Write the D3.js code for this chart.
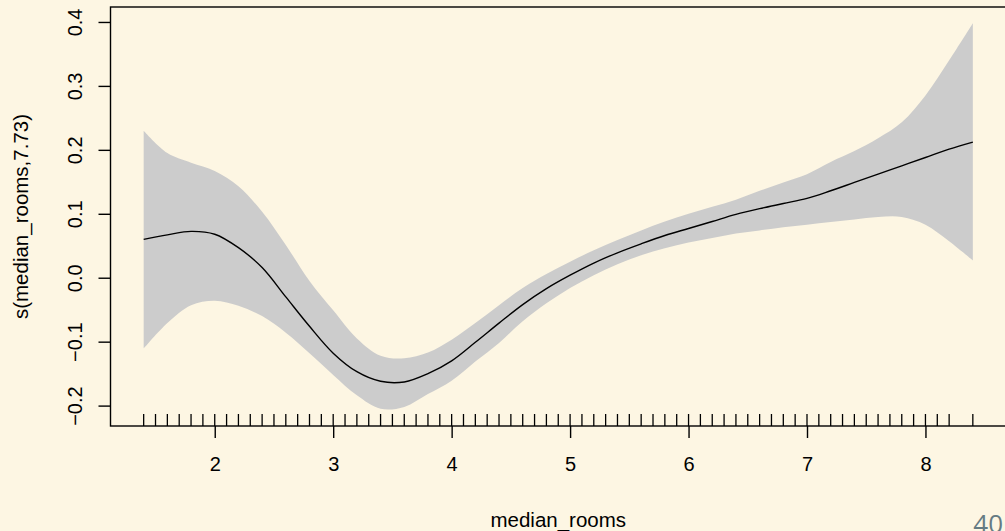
<!DOCTYPE html>
<meta charset="utf-8">
<style>
body { margin: 0; background: #fdf6e3; }
svg { display: block; }
text { font-family: "Liberation Sans", Arial, sans-serif; fill: #000; }
.slide-num { font-family: "Open Sans", sans-serif; fill: #657b83; }
</style>
<svg width="1005" height="531"></svg>
<script src="https://cdnjs.cloudflare.com/ajax/libs/d3/7.8.5/d3.min.js"></script>
<script>

// median_rooms grid
var rooms = [1.4, 1.6, 1.8, 2.0, 2.2, 2.4, 2.6, 2.8, 3.0, 3.2, 3.4, 3.6, 3.8, 4.0, 4.2, 4.4, 4.6, 4.8,
             5.0, 5.2, 5.4, 5.6, 5.8, 6.0, 6.2, 6.4, 6.6, 6.8, 7.0, 7.2, 7.4, 7.6, 7.8, 8.0, 8.2, 8.4];
var fit   = [0.060, 0.067, 0.0725, 0.068, 0.047, 0.016, -0.030, -0.076, -0.118, -0.147, -0.162, -0.163,
             -0.150, -0.130, -0.101, -0.071, -0.042, -0.017, 0.004, 0.023, 0.039, 0.053, 0.066, 0.077,
             0.088, 0.099, 0.108, 0.116, 0.124, 0.136, 0.149, 0.162, 0.175, 0.188, 0.201, 0.212];
var upper = [0.230, 0.195, 0.180, 0.167, 0.143, 0.103, 0.051, -0.005, -0.051, -0.095, -0.122, -0.126,
             -0.117, -0.097, -0.071, -0.043, -0.016, 0.006, 0.025, 0.043, 0.059, 0.074, 0.088, 0.100,
             0.111, 0.122, 0.136, 0.149, 0.162, 0.181, 0.198, 0.218, 0.243, 0.285, 0.340, 0.398];
var lower = [-0.111, -0.071, -0.043, -0.036, -0.044, -0.060, -0.086, -0.118, -0.152, -0.184, -0.205, -0.202,
             -0.182, -0.161, -0.131, -0.102, -0.068, -0.040, -0.016, 0.004, 0.021, 0.035, 0.046, 0.055,
             0.062, 0.069, 0.074, 0.079, 0.083, 0.087, 0.091, 0.095, 0.095, 0.083, 0.057, 0.027];

// rug of observed values
var rug = [1.4, 1.5, 1.6, 1.7, 1.8, 1.9, 2.0, 2.1, 2.2, 2.3, 2.4, 2.5, 2.6, 2.7, 2.8, 2.9,
           3.0, 3.1, 3.2, 3.3, 3.4, 3.5, 3.6, 3.7, 3.8, 3.9, 4.0, 4.1, 4.2, 4.3, 4.4, 4.5,
           4.6, 4.7, 4.8, 4.9, 5.0, 5.1, 5.2, 5.3, 5.4, 5.5, 5.6, 5.7, 5.8, 5.9, 6.0, 6.1,
           6.2, 6.3, 6.4, 6.5, 6.6, 6.7, 6.8, 6.9, 7.0, 7.1, 7.2, 7.3, 7.4, 7.5, 7.6, 7.7,
           7.8, 7.9, 8.0, 8.1, 8.2, 8.4];

var xTicks = [2, 3, 4, 5, 6, 7, 8];
var yTicks = [-0.2, -0.1, 0.0, 0.1, 0.2, 0.3, 0.4];
var yTickLabels = ["\u22120.2", "\u22120.1", "0.0", "0.1", "0.2", "0.3", "0.4"];

var svg = d3.select("svg");

var x = d3.scaleLinear().domain([1.12, 8.68]).range([110.5, 1006]);
var y = d3.scaleLinear().domain([-0.2319, 0.4234]).range([426, 7]);

var pts = rooms.map(function(r, i) { return {x: r, f: fit[i], u: upper[i], l: lower[i]}; });

// confidence band
svg.append("path")
    .datum(pts)
    .attr("fill", "#cccccc")
    .attr("d", d3.area()
        .curve(d3.curveCatmullRom.alpha(0.5))
        .x(function(d) { return x(d.x); })
        .y0(function(d) { return y(d.l); })
        .y1(function(d) { return y(d.u); }));

// smooth
svg.append("path")
    .datum(pts)
    .attr("fill", "none")
    .attr("stroke", "#000")
    .attr("stroke-width", 1.4)
    .attr("d", d3.line()
        .curve(d3.curveCatmullRom.alpha(0.5))
        .x(function(d) { return x(d.x); })
        .y(function(d) { return y(d.f); }));

// rug
svg.append("g")
    .selectAll("line")
    .data(rug)
    .enter().append("line")
    .attr("x1", function(d) { return x(d); })
    .attr("x2", function(d) { return x(d); })
    .attr("y1", y.range()[0])
    .attr("y2", y.range()[0] - 12)
    .attr("stroke", "#000")
    .attr("stroke-width", 1.3);

// box
svg.append("rect")
    .attr("x", x.range()[0])
    .attr("y", y.range()[1])
    .attr("width", x.range()[1] - x.range()[0])
    .attr("height", y.range()[0] - y.range()[1])
    .attr("fill", "none")
    .attr("stroke", "#000")
    .attr("stroke-width", 1.4);

// x axis
var xAxis = svg.append("g")
    .attr("transform", "translate(0," + y.range()[0] + ")")
    .call(d3.axisBottom(x).tickValues(xTicks).tickSize(12).tickPadding(19)
        .tickFormat(d3.format("d")));
xAxis.select(".domain").remove();
xAxis.selectAll("line").attr("stroke", "#000").attr("stroke-width", 1.4);
xAxis.selectAll("text")
    .attr("fill", "#000")
    .style("font-size", "20px")
    .style("font-family", "'Liberation Sans', Arial, sans-serif");

// y axis
var yAxis = svg.append("g")
    .attr("transform", "translate(" + x.range()[0] + ",0)")
    .call(d3.axisLeft(y).tickValues(yTicks).tickSize(12)
        .tickFormat(function(d, i) { return yTickLabels[i]; }));
yAxis.select(".domain").remove();
yAxis.selectAll("line").attr("stroke", "#000").attr("stroke-width", 1.4);
yAxis.selectAll("text")
    .attr("x", null)
    .attr("dy", null)
    .attr("fill", "#000")
    .attr("text-anchor", "middle")
    .attr("transform", "translate(-29,0) rotate(-90)")
    .style("font-size", "20px")
    .style("font-family", "'Liberation Sans', Arial, sans-serif");

// axis titles, centred on the plot region
var midX = (x.range()[0] + x.range()[1]) / 2,
    midY = (y.range()[0] + y.range()[1]) / 2;

svg.append("text")
    .attr("x", midX)
    .attr("y", 527)
    .attr("text-anchor", "middle")
    .style("font-size", "20.5px")
    .text("median_rooms");

svg.append("text")
    .attr("transform", "translate(27.5," + midY + ") rotate(-90)")
    .attr("text-anchor", "middle")
    .style("font-size", "20.5px")
    .text("s(median_rooms,7.73)");

// slide number
svg.append("text")
    .attr("class", "slide-num")
    .attr("x", 1003)
    .attr("y", 533)
    .attr("text-anchor", "end")
    .style("font-size", "26px")
    .text("40");

</script>
